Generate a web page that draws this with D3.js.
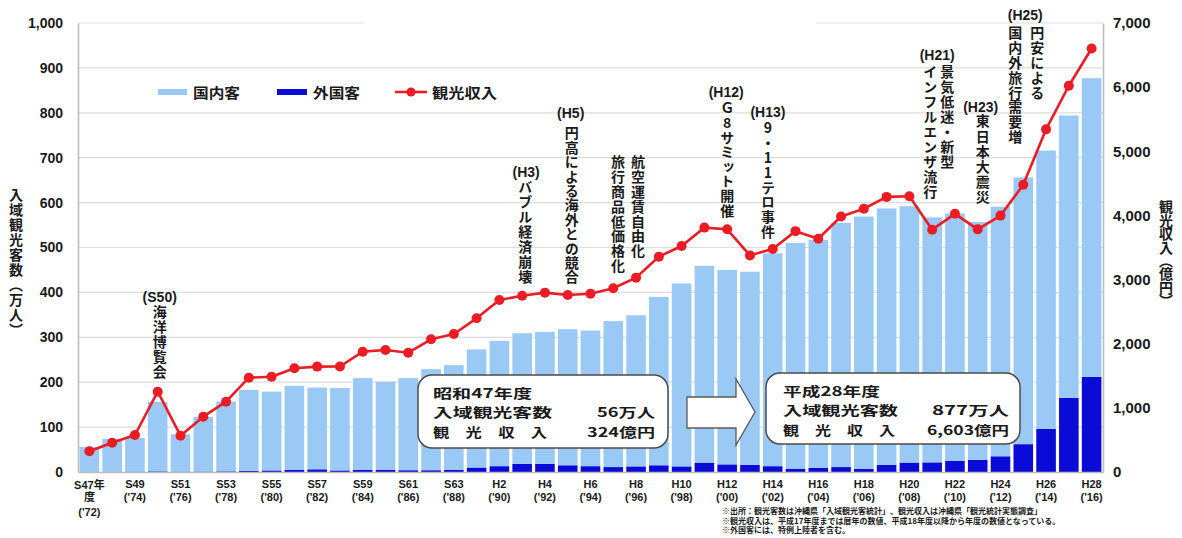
<!DOCTYPE html>
<html>
<head>
<meta charset="utf-8">
<script src="https://cdn.jsdelivr.net/npm/d3@7"></script>
<style>
  html, body { margin: 0; padding: 0; background: #fff; }
  svg { display: block; }
  text { font-family: "Liberation Sans", "Noto Sans CJK JP", sans-serif; font-weight: bold; fill: #1a1a1a; }
  .jp { font-family: "Noto Sans CJK JP", "Liberation Sans", sans-serif; }
  .vt { writing-mode: vertical-rl; text-orientation: upright; }
</style>
</head>
<body>
<svg id="chart" width="1182" height="538"></svg>
<script>
// ---- data: Okinawa inbound tourists (10k persons) and tourism revenue (100M yen) ----
const fiscalYears = [1972, 1973, 1974, 1975, 1976, 1977, 1978, 1979, 1980, 1981,
  1982, 1983, 1984, 1985, 1986, 1987, 1988, 1989, 1990, 1991,
  1992, 1993, 1994, 1995, 1996, 1997, 1998, 1999, 2000, 2001,
  2002, 2003, 2004, 2005, 2006, 2007, 2008, 2009, 2010, 2011,
  2012, 2013, 2014, 2015, 2016];

const eraLabels = ["S47", "S48", "S49", "S50", "S51", "S52", "S53", "S54", "S55", "S56",
  "S57", "S58", "S59", "S60", "S61", "S62", "S63", "H1", "H2", "H3",
  "H4", "H5", "H6", "H7", "H8", "H9", "H10", "H11", "H12", "H13",
  "H14", "H15", "H16", "H17", "H18", "H19", "H20", "H21", "H22", "H23",
  "H24", "H25", "H26", "H27", "H28"];

// 国内客 (domestic visitors, 万人)
const domestic = [55.5, 73.5, 75.2, 154.5, 83.2, 122, 155.5, 180.5, 175.5, 187,
  182, 183.5, 204, 196.5, 205, 225, 233, 263, 279, 291,
  294, 303, 302, 325, 336.5, 375, 407.5, 438, 433, 430,
  474, 502.5, 508, 544, 562, 571, 571, 545.5, 551.5, 530,
  556, 594, 620, 629, 665];

// 外国客 (foreign visitors, 万人)
const foreign = [0.5, 0.5, 0.8, 1.5, 0.8, 1.0, 1.5, 2.5, 3.5, 5,
  6, 3.5, 5, 4.5, 4, 4, 5, 10, 13, 18,
  18, 15, 13, 11, 12.5, 15, 12.5, 21, 17, 16,
  13, 7.5, 9, 11, 7, 16, 21, 21.5, 24.5, 27,
  35, 62, 96, 165, 212];

// 観光収入 (tourism revenue, 億円)
const revenue = [324, 457, 577, 1252, 566, 862, 1096, 1470, 1486, 1617,
  1643, 1645, 1876, 1902, 1860, 2069, 2152, 2396, 2682, 2749,
  2796, 2760, 2780, 2864, 3030, 3357, 3524, 3810, 3784, 3377,
  3478, 3755, 3636, 3984, 4104, 4289, 4299, 3778, 4025, 3783,
  3997, 4479, 5342, 6022, 6603];

const leftTicks = [0, 100, 200, 300, 400, 500, 600, 700, 800, 900, 1000];
const rightTicks = [0, 1000, 2000, 3000, 4000, 5000, 6000, 7000];

const seriesNames = ["国内客", "外国客", "観光収入"];
const axisTitles = ["入域観光客数（万人）", "観光収入（億円）"];

// events written vertically above the bars
const events = [
  { year: 1975, tag: "(S50)", cols: ["海洋博覧会"] },
  { year: 1991, tag: "(H3)", cols: ["バブル経済崩壊"] },
  { year: 1993, tag: "(H5)", cols: ["円高による海外との競合"] },
  { year: 1996, tag: "", cols: ["航空運賃自由化", "旅行商品低価格化"] },
  { year: 2000, tag: "(H12)", cols: ["Ｇ8サミット開催"] },
  { year: 2001, tag: "(H13)", cols: ["9・11テロ事件"] },
  { year: 2009, tag: "(H21)", cols: ["景気低迷・新型", "インフルエンザ流行"] },
  { year: 2011, tag: "(H23)", cols: ["東日本大震災"] },
  { year: 2013, tag: "(H25)", cols: ["円安による", "国内外旅行需要増"] }
];

const summaryStart = { title: "昭和47年度", visitors: "56万人", revenue: "324億円" };
const summaryEnd = { title: "平成28年度", visitors: "877万人", revenue: "6,603億円" };

const footnotes = [
  "※出所：観光客数は沖縄県「入域観光客統計」、観光収入は沖縄県「観光統計実態調査」",
  "※観光収入は、平成17年度までは暦年の数値、平成18年度以降から年度の数値となっている。",
  "※外国客には、特例上陸者を含む。"
];

// ---- layout ----
const svg = d3.select("#chart");
const plot = { left: 78, right: 1103, top: 23, bottom: 472 };
const colors = { domestic: "#99c9f4", foreign: "#0b0bd8", revenue: "#ec1c24", grid: "#dcdcdc", axis: "#bdbdbd" };

const x = d3.scaleBand().domain(fiscalYears).range([plot.left, plot.right])
  .paddingInner(0.14).paddingOuter(0.07);
const yL = d3.scaleLinear().domain([0, 1000]).range([plot.bottom, plot.top]);
const yR = d3.scaleLinear().domain([0, 7000]).range([plot.bottom, plot.top]);
const cx = yr => x(yr) + x.bandwidth() / 2;

// gridlines
svg.append("g").selectAll("line").data(leftTicks.filter(d => d > 0)).join("line")
  .attr("x1", plot.left).attr("x2", plot.right)
  .attr("y1", d => yL(d)).attr("y2", d => yL(d))
  .attr("stroke", colors.grid).attr("stroke-width", 1.2);

// white backdrop of the event-notes area at the top
svg.append("rect").attr("x", 363).attr("y", 0).attr("width", 453).attr("height", 27).attr("fill", "#fff");

// stacked bars
const rows = fiscalYears.map((yr, i) => ({ year: yr, foreign: foreign[i], domestic: domestic[i] }));
const stacked = d3.stack().keys(["foreign", "domestic"])(rows);
svg.append("g").selectAll("g").data(stacked).join("g")
  .attr("fill", d => colors[d.key])
  .selectAll("rect").data(d => d).join("rect")
  .attr("x", d => x(d.data.year))
  .attr("width", x.bandwidth())
  .attr("y", d => yL(d[1]))
  .attr("height", d => yL(d[0]) - yL(d[1]));

// axes
const axisL = svg.append("g").attr("transform", `translate(${plot.left},0)`)
  .call(d3.axisLeft(yL).tickValues(leftTicks).tickFormat(d3.format(",")).tickSize(0).tickPadding(15));
const axisR = svg.append("g").attr("transform", `translate(${plot.right},0)`)
  .call(d3.axisRight(yR).tickValues(rightTicks).tickFormat(d3.format(",")).tickSize(0).tickPadding(10));
const axisB = svg.append("g").attr("transform", `translate(0,${plot.bottom})`)
  .call(d3.axisBottom(x).tickValues(fiscalYears.filter((d, i) => i % 2 === 0)).tickSize(0).tickFormat(""));
[axisL, axisR, axisB].forEach(g => {
  g.select(".domain").attr("stroke", colors.axis).attr("stroke-width", 1.6);
  g.selectAll(".tick text").style("font-family", null).attr("fill", "#1a1a1a");
});
axisL.selectAll(".tick text").attr("font-size", 14).attr("font-weight", "bold");
axisR.selectAll(".tick text").attr("font-size", 15).attr("font-weight", "bold");

// x tick labels: era year over western year
axisB.selectAll(".tick").each(function (yr) {
  const i = fiscalYears.indexOf(yr);
  const yy = "('" + String(yr).slice(2) + ")";
  const lines = i === 0 ? [eraLabels[i] + "年", "度", yy] : [eraLabels[i], yy];
  const offs = i === 0 ? [13, 25, 40] : [12, 25];
  const g = d3.select(this);
  g.selectAll("text").remove();
  lines.forEach((t, k) => {
    g.append("text").attr("y", offs[k]).attr("text-anchor", "middle")
      .attr("dominant-baseline", "central").attr("font-size", 11).text(t);
  });
});

// revenue line
const line = d3.line().x((d, i) => cx(fiscalYears[i])).y(d => yR(d));
svg.append("path").datum(revenue).attr("d", line)
  .attr("fill", "none").attr("stroke", colors.revenue).attr("stroke-width", 2.6).attr("stroke-linejoin", "round");
svg.append("g").selectAll("circle").data(revenue).join("circle")
  .attr("cx", (d, i) => cx(fiscalYears[i])).attr("cy", d => yR(d)).attr("r", 5)
  .attr("fill", colors.revenue);

// vertical column of text; yFirst is the centre of the first glyph
function vcol(g, str, xPos, yFirst, pitch, size) {
  g.append("text").attr("class", "jp vt")
    .attr("x", xPos).attr("y", yFirst - size / 2)
    .attr("font-size", size)
    .style("letter-spacing", (pitch - size) + "px")
    .text(str);
}

// axis titles
vcol(svg, axisTitles[0], 16, 195, 15, 14);
vcol(svg, axisTitles[1], 1166, 207, 13.4, 14);

// event notes (offsets relative to the bar centre of the event year)
const eventLayout = {
  1975: { tagDx: 2, tagY: 297, colDx: [2], top: 312, pitch: 15 },
  1991: { tagDx: 4, tagY: 172, colDx: [3], top: 187, pitch: 15 },
  1993: { tagDx: 3, tagY: 113, colDx: [4], top: 133, pitch: 14.4 },
  1996: { tagDx: 0, tagY: 0, colDx: [2, -18], top: 162, pitch: 14.8 },
  2000: { tagDx: -1, tagY: 92, colDx: [0], top: 108, pitch: 14.6 },
  2001: { tagDx: 18, tagY: 112, colDx: [18], top: 128, pitch: 14.8 },
  2009: { tagDx: 5, tagY: 55, colDx: [15, -2], top: 72, pitch: 15 },
  2011: { tagDx: 3, tagY: 107, colDx: [5], top: 121, pitch: 15.2 },
  2013: { tagDx: 2, tagY: 15, colDx: [14, -8], top: 33, pitch: 14.8 }
};
const notes = svg.append("g");
events.forEach(ev => {
  const L = eventLayout[ev.year];
  const xc = cx(ev.year);
  if (ev.tag) {
    notes.append("text").attr("x", xc + L.tagDx).attr("y", L.tagY)
      .attr("text-anchor", "middle").attr("dominant-baseline", "central")
      .attr("font-size", 14).text(ev.tag);
  }
  ev.cols.forEach((c, k) => vcol(notes, c, xc + L.colDx[k], L.top, L.pitch, 14));
});

// legend
const lg = svg.append("g");
lg.append("line").attr("x1", 158).attr("x2", 187).attr("y1", 92).attr("y2", 92)
  .attr("stroke", colors.domestic).attr("stroke-width", 6);
lg.append("line").attr("x1", 277).attr("x2", 307).attr("y1", 92).attr("y2", 92)
  .attr("stroke", colors.foreign).attr("stroke-width", 6);
lg.append("line").attr("x1", 395).attr("x2", 427).attr("y1", 92).attr("y2", 92)
  .attr("stroke", colors.revenue).attr("stroke-width", 2.6);
lg.append("circle").attr("cx", 411).attr("cy", 92).attr("r", 4.5).attr("fill", colors.revenue);
[[193, 47], [313, 47], [432, 65]].forEach(([xx, w], k) => {
  lg.append("text").attr("class", "jp").attr("x", xx).attr("y", 92).attr("dominant-baseline", "central")
    .attr("font-size", 14).attr("textLength", w).attr("lengthAdjust", "spacingAndGlyphs").text(seriesNames[k]);
});

// summary boxes: three lines of text, numbers flush right
function summaryBox(info, bx, by, bw, bh, tx, rx, widths) {
  const g = svg.append("g");
  g.append("rect").attr("x", bx).attr("y", by).attr("width", bw).attr("height", bh).attr("rx", 14)
    .attr("fill", "#fff").attr("stroke", "#4a4a4a").attr("stroke-width", 1.5);
  const base = by + 23, gap = 19.3;
  const put = (s, xx, yy, w) => g.append("text").attr("class", "jp").attr("font-size", 13)
    .attr("x", xx).attr("y", yy)
    .attr("textLength", w).attr("lengthAdjust", "spacingAndGlyphs").text(s);
  put(info.title, tx, base, widths[0]);
  put("入域観光客数", tx, base + gap, widths[1]);
  put(info.visitors, rx - widths[3], base + gap, widths[3]);
  put("観　光　収　入", tx, base + 2 * gap, widths[2]);
  put(info.revenue, rx - widths[4], base + 2 * gap, widths[4]);
}
summaryBox(summaryStart, 418, 375, 250, 73, 433, 655, [99, 119, 114, 58, 68]);
summaryBox(summaryEnd, 766, 373, 254, 71, 783, 1009, [97, 115, 112, 77, 82]);

// block arrow between the boxes
svg.append("path")
  .attr("d", "M687,397 L736,397 L736,379 L755,412 L736,445 L736,428 L687,428 Z")
  .attr("fill", "#fff").attr("stroke", "#5a5a5a").attr("stroke-width", 1.3);

// footnotes
svg.append("g").selectAll("text").data(footnotes).join("text")
  .attr("class", "jp").attr("x", 722).attr("y", (d, i) => 514 + i * 9.5)
  .attr("font-size", 8).attr("font-weight", "normal").attr("fill", "#555").text(d => d);
</script>
</body>
</html>
